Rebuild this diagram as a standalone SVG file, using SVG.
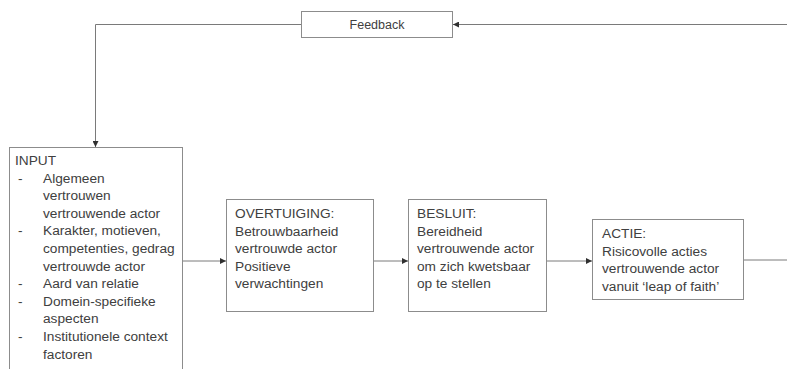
<svg xmlns="http://www.w3.org/2000/svg" width="787" height="369" viewBox="0 0 787 369">
  <defs>
    <marker id="arrow" viewBox="0 0 10 10" refX="10" refY="5" markerWidth="6" markerHeight="6" orient="auto" markerUnits="userSpaceOnUse">
      <path d="M0,0 L10,5 L0,10 z" fill="#303030"/>
    </marker>
    <style>
      .box { fill: #ffffff; stroke: #8c8c8c; stroke-width: 1; }
      .edge { fill: none; stroke: #7a7a7a; stroke-width: 1; }
      .txt { font-family: "Liberation Sans", Arial, sans-serif; font-size: 13.7px; fill: #404040; }
      .fb { font-family: "Liberation Sans", Arial, sans-serif; font-size: 12.5px; fill: #404040; }
    </style>
  </defs>
  <rect width="787" height="369" fill="#ffffff"/>

  <!-- connectors -->
  <g id="connectors">
    <path class="edge" d="M787,24.5 L453,24.5" marker-end="url(#arrow)"/>
    <path class="edge" d="M301,24.5 L95.5,24.5 L95.5,147" marker-end="url(#arrow)"/>
    <path class="edge" d="M183,261 L226,261" marker-end="url(#arrow)"/>
    <path class="edge" d="M374,261 L408,261" marker-end="url(#arrow)"/>
    <path class="edge" d="M547,261 L592,261" marker-end="url(#arrow)"/>
    <path class="edge" d="M744,260 L787,260"/>
  </g>

  <!-- feedback -->
  <g id="feedback">
    <rect class="box" x="301.5" y="11.5" width="151" height="26"/>
    <text class="fb" x="377" y="29" text-anchor="middle">Feedback</text>
  </g>

  <!-- input -->
  <g id="input">
    <rect class="box" x="9.5" y="147.5" width="173" height="230"/>
    <text class="txt" x="15" y="165">INPUT</text>
    <g class="txt">
      <text x="18" y="182.6">-</text>
      <text x="43" y="182.6">Algemeen</text>
      <text x="43" y="200.2">vertrouwen</text>
      <text x="43" y="217.8">vertrouwende actor</text>
      <text x="18" y="235.4">-</text>
      <text x="43" y="235.4">Karakter, motieven,</text>
      <text x="43" y="253">competenties, gedrag</text>
      <text x="43" y="270.6">vertrouwde actor</text>
      <text x="18" y="288.2">-</text>
      <text x="43" y="288.2">Aard van relatie</text>
      <text x="18" y="305.8">-</text>
      <text x="43" y="305.8">Domein-specifieke</text>
      <text x="43" y="323.4">aspecten</text>
      <text x="18" y="341">-</text>
      <text x="43" y="341">Institutionele context</text>
      <text x="43" y="358.6">factoren</text>
    </g>
  </g>

  <!-- overtuiging -->
  <g id="overtuiging">
    <rect class="box" x="226.5" y="199.5" width="147" height="112"/>
    <text class="txt" x="235" y="218">OVERTUIGING:</text>
    <text class="txt" x="235" y="235.5">Betrouwbaarheid</text>
    <text class="txt" x="235" y="253">vertrouwde actor</text>
    <text class="txt" x="235" y="270.5">Positieve</text>
    <text class="txt" x="235" y="288">verwachtingen</text>
  </g>

  <!-- besluit -->
  <g id="besluit">
    <rect class="box" x="408.5" y="199.5" width="138" height="112"/>
    <text class="txt" x="417" y="218">BESLUIT:</text>
    <text class="txt" x="417" y="235.5">Bereidheid</text>
    <text class="txt" x="417" y="253">vertrouwende actor</text>
    <text class="txt" x="417" y="270.5">om zich kwetsbaar</text>
    <text class="txt" x="417" y="288">op te stellen</text>
  </g>

  <!-- actie -->
  <g id="actie">
    <rect class="box" x="592.5" y="219.5" width="151" height="80"/>
    <text class="txt" x="602" y="238">ACTIE:</text>
    <text class="txt" x="602" y="255.5">Risicovolle acties</text>
    <text class="txt" x="602" y="273">vertrouwende actor</text>
    <text class="txt" x="602" y="290.5">vanuit ‘leap of faith’</text>
  </g>
</svg>
